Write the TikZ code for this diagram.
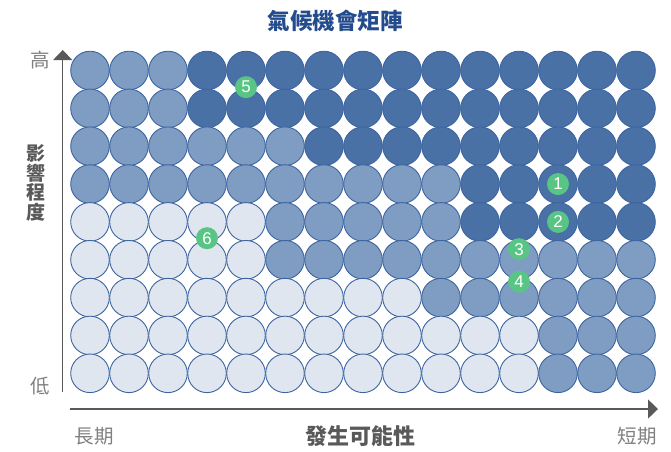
\documentclass[tikz,border=0pt]{standalone}
\usepackage{fontspec}
\setmainfont{Liberation Sans}
\newfontfamily\cjk{Noto Sans CJK TC}
\usepackage{tikz}
\usetikzlibrary{arrows.meta,calc,positioning}
\definecolor{bubbledark}{HTML}{4A71A6}
\definecolor{bubblemid}{HTML}{7F9DC3}
\definecolor{bubblelight}{HTML}{DFE6F0}
\definecolor{bubbleedge}{HTML}{3C64A0}
\definecolor{axisgray}{HTML}{595959}
\definecolor{labelgray}{HTML}{808080}
\definecolor{titleblue}{HTML}{234B8D}
\definecolor{markgreen}{HTML}{58C584}
\tikzstyle{bubble} = [
  draw=bubbleedge,
  circle,
  line width=0.9pt,
  inner sep=0pt,
  minimum size=38.6pt,
]
\tikzstyle{marker} = [
  circle,
  fill=markgreen,
  inner sep=0pt,
  minimum size=22pt,
  text=white,
  font=\fontsize{17}{17}\selectfont,
]
\tikzstyle{axis} = [
  draw=axisgray,
  line width=1.3pt,
  -{Triangle[length=10pt,width=19pt]},
]
\tikzstyle{tick} = [
  text=labelgray,
  font=\cjk\fontsize{19.5}{19.5}\selectfont,
]

\begin{document}
\begin{tikzpicture}[
    x=1pt,
    y=-1pt,
  ]
  \useasboundingbox (0,0) rectangle (671,451);
  % grid of bubbles: row / last light column / last medium column
  \foreach \row/\nlight/\nmed in {1/0/3, 2/0/3, 3/0/6, 4/0/10, 5/5/10,
      6/5/15, 7/9/15, 8/12/15, 9/12/15}{
    \foreach \col in {1,...,15}{
      \ifnum\col>\nmed \def\tone{bubbledark}\else
        \ifnum\col>\nlight \def\tone{bubblemid}\else
          \def\tone{bubblelight}\fi\fi
      \node[
        bubble,
        fill=\tone,
      ](c-\row-\col) at ({90+(\col-1)*39}, {70.5+(\row-1)*37.85}) {};
    }
  }
  \node[marker] (m1) at (c-4-13) {1};
  \node[marker] (m2) at (c-5-13) {2};
  \node[marker] (m3) at ($(c-5-12)!0.72!(c-6-12)$) {3};
  \node[marker] (m4) at ($(c-6-12)!0.58!(c-7-12)$) {4};
  \node[marker] (m5) at ($(c-1-5)!0.44!(c-2-5)$) {5};
  \node[marker] (m6) at ($(c-5-4)!0.43!(c-6-4)$) {6};
  % axes
  \coordinate (yfrom) at (62.7,391.7);
  \coordinate (yto) at (62.7,50);
  \coordinate (xfrom) at (70,409);
  \coordinate (xto) at (658,409);
  \draw[axis] (yfrom) -- (yto);
  \draw[axis] (xfrom) -- (xto);
  \node[tick] (high) at (40,60) {高};
  \node[tick] (low) at (40,386) {低};
  \node[tick] (longterm) at (94,436) {長期};
  \node[tick] (shortterm) at (637,436) {短期};
  \node[
    text=axisgray,
    align=center,
    font=\cjk\bfseries\fontsize{19}{19.5}\selectfont,
  ](impact) at (36,183) {影\\響\\程\\度};
  \node[
    text=axisgray,
    font=\cjk\bfseries\fontsize{22}{22}\selectfont,
  ](likelihood) at (360,436) {發生可能性};
  \node[
    text=titleblue,
    font=\cjk\bfseries\fontsize{22.5}{22.5}\selectfont,
  ](title) at (335,21) {氣候機會矩陣};
\end{tikzpicture}
\end{document}
